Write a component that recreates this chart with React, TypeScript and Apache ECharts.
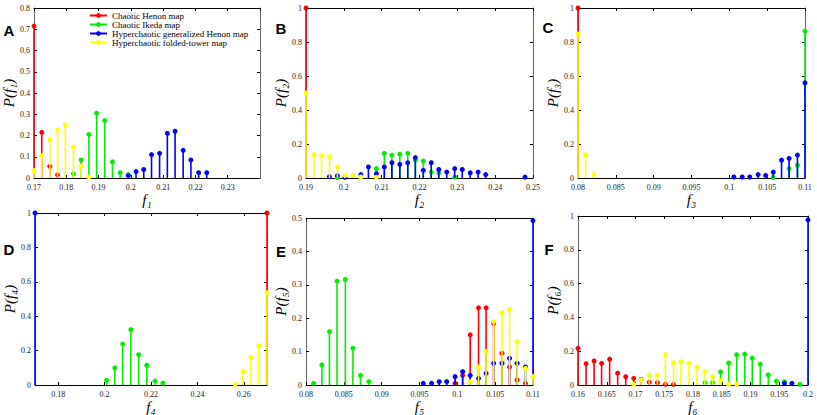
import React, { useEffect, useRef } from "react";
import * as echarts from "echarts";

const SERIF = '"Liberation Serif", "DejaVu Serif", serif';
const SANS = '"Liberation Sans", Arial, sans-serif';

const SERIES_NAMES = [
  "Chaotic Henon map",
  "Chaotic Ikeda map",
  "Hyperchaotic generalized Henon map",
  "Hyperchaotic folded-tower map",
];
const COLORS = ["#ff0000", "#00ee00", "#0000ff", "#ffff00"];

// ---- Panel A (f1)
const aRedX = [0.17, 0.1724, 0.1749, 0.1773];
const aRedY = [0.715, 0.215, 0.055, 0.015];
const aGreenX = [0.1822, 0.1846, 0.187, 0.1894, 0.1919, 0.1943, 0.1967, 0.1992];
const aGreenY = [0.02, 0.085, 0.205, 0.305, 0.27, 0.076, 0.025, 0.016];
const aBlueX = [0.1992, 0.2016, 0.204, 0.2064, 0.2089, 0.2113, 0.2137, 0.2162, 0.2186, 0.221, 0.2235];
const aBlueY = [0.011, 0.03, 0.04, 0.11, 0.116, 0.21, 0.22, 0.13, 0.085, 0.025, 0.025];
const aYellowX = [0.17, 0.1724, 0.1749, 0.1773, 0.1797, 0.1822, 0.1846, 0.187];
const aYellowY = [0.035, 0.105, 0.18, 0.224, 0.25, 0.146, 0.055, 0.005];

// ---- Panel B (f2)
const bRedX = [0.19];
const bRedY = [1.0];
const bGreenX = [0.1983, 0.2086, 0.2107, 0.2127, 0.2148, 0.2169, 0.2189, 0.221, 0.2231, 0.2251, 0.2293];
const bGreenY = [0.003, 0.055, 0.145, 0.135, 0.14, 0.145, 0.105, 0.1, 0.035, 0.03, 0.005];
const bBlueX = [0.1962, 0.1983, 0.2003, 0.2045, 0.2065, 0.2086, 0.2107, 0.2127, 0.2148, 0.2169, 0.2189, 0.221, 0.2231, 0.2251, 0.2272, 0.2293, 0.2313, 0.2334, 0.2355, 0.2375, 0.2479];
const bBlueY = [0.008, 0.014, 0.004, 0.02, 0.065, 0.025, 0.065, 0.09, 0.08, 0.09, 0.12, 0.045, 0.09, 0.05, 0.035, 0.055, 0.05, 0.03, 0.035, 0.02, 0.005];
const bYellowX = [0.19, 0.1921, 0.1941, 0.1962, 0.1983, 0.2003, 0.2024, 0.2045, 0.2086];
const bYellowY = [0.5, 0.137, 0.13, 0.125, 0.065, 0.015, 0.015, 0.006, 0.004];

// ---- Panel C (f3)
const cRedX = [0.08];
const cRedY = [1.0];
const cGreenX = [0.1058, 0.1079, 0.109, 0.11];
const cGreenY = [0.003, 0.055, 0.075, 0.863];
const cBlueX = [0.1006, 0.1017, 0.1027, 0.1038, 0.1048, 0.1058, 0.1069, 0.1079, 0.109, 0.11];
const cBlueY = [0.006, 0.006, 0.006, 0.02, 0.015, 0.035, 0.105, 0.115, 0.135, 0.56];
const cYellowX = [0.08, 0.081, 0.0821];
const cYellowY = [0.847, 0.137, 0.02];

// ---- Panel D (f4)
const dRedX = [0.27];
const dRedY = [1.0];
const dGreenX = [0.2009, 0.2044, 0.2078, 0.2113, 0.2147, 0.2182, 0.2217, 0.2251];
const dGreenY = [0.027, 0.1, 0.238, 0.322, 0.176, 0.115, 0.023, 0.011];
const dBlueX = [0.17];
const dBlueY = [1.0];
const dYellowX = [0.2563, 0.2596, 0.2631, 0.2665, 0.27];
const dYellowY = [0.004, 0.077, 0.16, 0.228, 0.536];
const dTickValues = [0.18, 0.2, 0.22, 0.24, 0.26];

// ---- Panel E (f5)
const eRedX = [0.0997, 0.1007, 0.1017, 0.1028, 0.1038, 0.1048, 0.1059, 0.1069, 0.1079, 0.109];
const eRedY = [0.005, 0.029, 0.15, 0.231, 0.231, 0.185, 0.095, 0.054, 0.015, 0.005];
const eGreenX = [0.081, 0.0821, 0.0831, 0.0841, 0.0852, 0.0862, 0.0872, 0.0883];
const eGreenY = [0.005, 0.06, 0.16, 0.311, 0.316, 0.11, 0.029, 0.01];
const eBlueX = [0.0955, 0.0966, 0.0976, 0.0986, 0.0997, 0.1007, 0.1017, 0.1028, 0.1038, 0.1048, 0.1059, 0.1069, 0.1079, 0.109, 0.11];
const eBlueY = [0.005, 0.005, 0.01, 0.01, 0.025, 0.04, 0.029, 0.02, 0.035, 0.065, 0.065, 0.08, 0.065, 0.054, 0.492];
const eYellowX = [0.1017, 0.1028, 0.1038, 0.1048, 0.1059, 0.1069, 0.1079, 0.109, 0.11];
const eYellowY = [0.01, 0.054, 0.1, 0.19, 0.216, 0.226, 0.13, 0.05, 0.025];

// ---- Panel F (f6)
const fRedX = [0.16, 0.1614, 0.1628, 0.1641, 0.1655, 0.1669, 0.1683, 0.1697, 0.171, 0.1724, 0.1738, 0.1752, 0.1766];
const fRedY = [0.217, 0.126, 0.142, 0.128, 0.153, 0.07, 0.049, 0.039, 0.033, 0.017, 0.014, 0.004, 0.004];
const fGreenX = [0.1821, 0.1834, 0.1848, 0.1862, 0.1876, 0.189, 0.1903, 0.1917, 0.1931, 0.1945, 0.1959, 0.1986];
const fGreenY = [0.014, 0.014, 0.078, 0.13, 0.179, 0.183, 0.159, 0.124, 0.06, 0.023, 0.019, 0.004];
const fBlueX = [0.1959, 0.1972, 0.2];
const fBlueY = [0.01, 0.01, 0.977];
const fYellowX = [0.1697, 0.171, 0.1724, 0.1738, 0.1752, 0.1766, 0.1779, 0.1793, 0.1807, 0.1821, 0.1834, 0.1848, 0.1862, 0.1876];
const fYellowY = [0.004, 0.03, 0.058, 0.058, 0.18, 0.132, 0.138, 0.128, 0.105, 0.078, 0.049, 0.025, 0.004, 0.004];

type Panel = {
  letter: string;
  lx: number;
  ly: number;
  grid: { left: number; top: number; width: number; height: number };
  xMin: number;
  xMax: number;
  xInterval?: number;
  xCustom?: number[];
  hideMaxX?: boolean;
  yMax: number;
  yInterval: number;
  sub: string;
  data: [number[], number[]][];
};

const panels: Panel[] = [
  {
    letter: "A", lx: 9, ly: 30,
    grid: { left: 33, top: 8, width: 227, height: 170 },
    xMin: 0.17, xMax: 0.24, xInterval: 0.01, hideMaxX: true, yMax: 0.8, yInterval: 0.1, sub: "\u2081",
    data: [[aRedX, aRedY], [aGreenX, aGreenY], [aBlueX, aBlueY], [aYellowX, aYellowY]],
  },
  {
    letter: "B", lx: 281, ly: 28,
    grid: { left: 306, top: 8, width: 227, height: 170 },
    xMin: 0.19, xMax: 0.25, xInterval: 0.01, yMax: 1, yInterval: 0.2, sub: "\u2082",
    data: [[bRedX, bRedY], [bGreenX, bGreenY], [bBlueX, bBlueY], [bYellowX, bYellowY]],
  },
  {
    letter: "C", lx: 548, ly: 27,
    grid: { left: 578, top: 8, width: 227, height: 170 },
    xMin: 0.08, xMax: 0.11, xInterval: 0.005, yMax: 1, yInterval: 0.2, sub: "\u2083",
    data: [[cRedX, cRedY], [cGreenX, cGreenY], [cBlueX, cBlueY], [cYellowX, cYellowY]],
  },
  {
    letter: "D", lx: 9, ly: 249,
    grid: { left: 35, top: 213, width: 232, height: 174 },
    xMin: 0.17, xMax: 0.27, xCustom: dTickValues, yMax: 1, yInterval: 0.2, sub: "\u2084",
    data: [[dRedX, dRedY], [dGreenX, dGreenY], [dBlueX, dBlueY], [dYellowX, dYellowY]],
  },
  {
    letter: "E", lx: 281, ly: 251,
    grid: { left: 306, top: 218, width: 227, height: 169 },
    xMin: 0.08, xMax: 0.11, xInterval: 0.005, yMax: 0.5, yInterval: 0.1, sub: "\u2085",
    data: [[eRedX, eRedY], [eGreenX, eGreenY], [eBlueX, eBlueY], [eYellowX, eYellowY]],
  },
  {
    letter: "F", lx: 549, ly: 249,
    grid: { left: 578, top: 216, width: 230, height: 171 },
    xMin: 0.16, xMax: 0.2, xInterval: 0.005, yMax: 1, yInterval: 0.2, sub: "\u2086",
    data: [[fRedX, fRedY], [fGreenX, fGreenY], [fBlueX, fBlueY], [fYellowX, fYellowY]],
  },
];

function buildOption() {
  const grid: any[] = [];
  const xAxis: any[] = [];
  const yAxis: any[] = [];
  const series: any[] = [];
  const graphic: any[] = [];

  const labelStyle = { fontSize: 8, fontFamily: SERIF, color: "#222" };
  const nameStyle = { fontSize: 15, fontFamily: SERIF, fontStyle: "italic", color: "#000" };

  panels.forEach((p, i) => {
    grid.push({ ...p.grid, containLabel: false });
    const tickCustom = p.xCustom ? { customValues: p.xCustom } : {};
    const xBase: any = {
      type: "value",
      gridIndex: i,
      min: p.xMin,
      max: p.xMax,
      splitLine: { show: false },
    };
    if (p.xInterval) xBase.interval = p.xInterval;
    xAxis.push({
      ...xBase,
      position: "bottom",
      axisLine: { show: true, onZero: false, lineStyle: { color: "#000", width: 1 } },
      axisTick: { show: true, inside: true, length: 3, lineStyle: { color: "#000" }, ...tickCustom },
      axisLabel: { show: true, margin: 5, showMaxLabel: !p.hideMaxX, ...labelStyle, ...tickCustom },
      name: "f" + p.sub,
      nameLocation: "middle",
      nameGap: 14,
      nameTextStyle: nameStyle,
    });
    xAxis.push({
      ...xBase,
      position: "top",
      axisLine: { show: true, onZero: false, lineStyle: { color: "#000", width: 1 } },
      axisTick: { show: true, inside: true, length: 3, lineStyle: { color: "#000" }, ...tickCustom },
      axisLabel: { show: false },
    });
    const yBase: any = {
      type: "value",
      gridIndex: i,
      min: 0,
      max: p.yMax,
      interval: p.yInterval,
      splitLine: { show: false },
    };
    yAxis.push({
      ...yBase,
      position: "left",
      axisLine: { show: true, onZero: false, lineStyle: { color: "#666", width: 1 } },
      axisTick: { show: true, inside: true, length: 3, lineStyle: { color: "#000" } },
      axisLabel: { show: true, margin: 4, ...labelStyle },
      name: "P(f" + p.sub + ")",
      nameLocation: "middle",
      nameGap: 18,
      nameTextStyle: nameStyle,
    });
    yAxis.push({
      ...yBase,
      position: "right",
      axisLine: { show: true, onZero: false, lineStyle: { color: "#666", width: 1 } },
      axisTick: { show: true, inside: true, length: 3, lineStyle: { color: "#000" } },
      axisLabel: { show: false },
    });

    p.data.forEach(([xs, ys], c) => {
      const color = COLORS[c];
      series.push({
        type: "custom",
        name: SERIES_NAMES[c] + " " + p.letter,
        xAxisIndex: 2 * i,
        yAxisIndex: 2 * i,
        clip: false,
        z: 3 + c,
        data: xs.map((x, j) => [x, ys[j]]),
        renderItem: (_params: any, api: any) => {
          const x = api.value(0);
          const y = api.value(1);
          const top = api.coord([x, y]);
          const base = api.coord([x, 0]);
          return {
            type: "group",
            children: [
              {
                type: "line",
                shape: { x1: base[0], y1: base[1], x2: top[0], y2: top[1] },
                style: { stroke: color, lineWidth: 1.6 },
              },
              {
                type: "circle",
                shape: { cx: top[0], cy: top[1], r: 2.5 },
                style: { fill: color, stroke: null },
              },
            ],
          };
        },
      });
    });

    graphic.push({
      type: "text",
      x: p.lx,
      y: p.ly,
      style: {
        text: p.letter,
        font: "bold 15px " + SANS,
        fill: "#000",
        align: "center",
        verticalAlign: "middle",
        textAlign: "center",
        textVerticalAlign: "middle",
      },
    });
  });

  // Legend entries (empty line series just for the legend icons)
  SERIES_NAMES.forEach((name, c) => {
    series.push({
      type: "line",
      name,
      xAxisIndex: 0,
      yAxisIndex: 0,
      data: [],
      color: COLORS[c],
      symbol: "circle",
      symbolSize: 5,
      lineStyle: { width: 1.6, color: COLORS[c] },
      itemStyle: { color: COLORS[c] },
    });
  });

  return {
    animation: false,
    backgroundColor: "#fff",
    grid,
    xAxis,
    yAxis,
    series,
    graphic,
    legend: {
      data: SERIES_NAMES,
      orient: "vertical",
      left: 89,
      top: 11,
      padding: 0,
      itemGap: 0,
      itemWidth: 17,
      itemHeight: 6,
      textStyle: { fontFamily: SERIF, fontSize: 9, color: "#000", lineHeight: 9 },
    },
  };
}

export default function App() {
  const ref = useRef<HTMLDivElement>(null);
  useEffect(() => {
    document.body.style.margin = "0";
    const chart = echarts.init(ref.current!, undefined, { renderer: "svg" });
    chart.setOption(buildOption() as any);
    return () => chart.dispose();
  }, []);
  return <div ref={ref} style={{ width: 817, height: 415 }} />;
}
